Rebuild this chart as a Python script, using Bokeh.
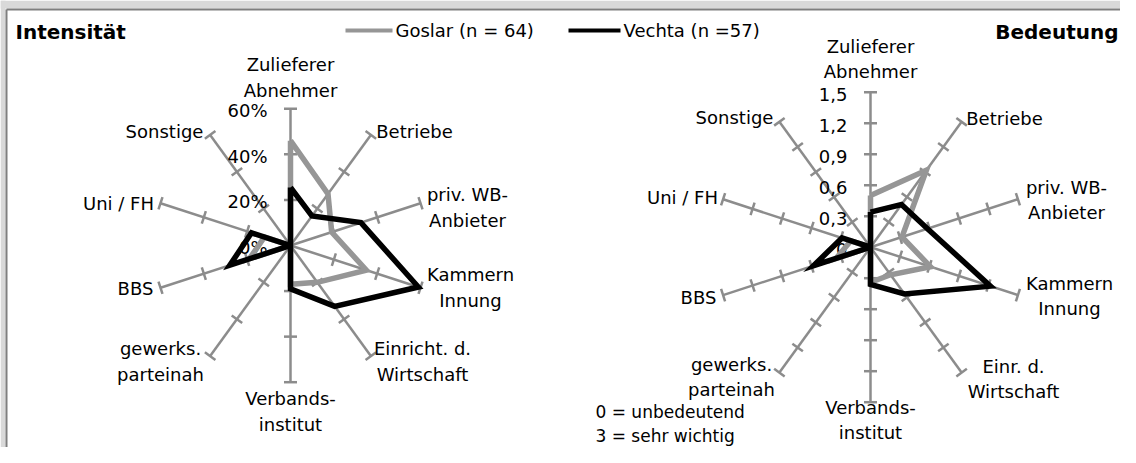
import numpy as np
from bokeh.plotting import figure
from bokeh.models import Range1d
from bokeh.embed import file_html
from bokeh.resources import INLINE
from bokeh.core.properties import value

# ---------------- data ----------------
labels_left = ["Zulieferer\nAbnehmer", "Betriebe", "priv. WB-\nAnbieter", "Kammern\nInnung",
               "Einricht. d.\nWirtschaft", "Verbands-\ninstitut", "gewerks.\nparteinah",
               "BBS", "Uni / FH", "Sonstige"]
labels_right = ["Zulieferer\nAbnehmer", "Betriebe", "priv. WB-\nAnbieter", "Kammern\nInnung",
                "Einr. d.\nWirtschaft", "Verbands-\ninstitut", "gewerks.\nparteinah",
                "BBS", "Uni / FH", "Sonstige"]

goslar_intensity = [46, 28, 19, 35, 20, 17, 0, 19, 12, 0]          # %
vechta_intensity = [25.5, 16, 32.5, 59, 33, 19, 0, 28, 18, 0]       # %
goslar_importance = [0.50, 0.92, 0.32, 0.61, 0.33, 0.34, 0.0, 0.35, 0.20, 0.0]
vechta_importance = [0.34, 0.51, 0.58, 1.22, 0.56, 0.36, 0.0, 0.58, 0.29, 0.0]

intensity_ticks = [0, 20, 40, 60]
intensity_tick_labels = ["0%", "20%", "40%", "60%"]
importance_ticks = [0, 0.3, 0.6, 0.9, 1.2, 1.5]
importance_tick_labels = ["0", "0,3", "0,6", "0,9", "1,2", "1,5"]

series_names = ["Goslar (n = 64)", "Vechta (n =57)"]

# ---------------- layout / style ----------------
FONT = value("DejaVu Sans")
AXIS_COL = "#8c8c8c"
GOSLAR_COL = "#969696"
VECHTA_COL = "#000000"

left_center = (290, 245)
left_R = 136.7
right_center = (870, 246.7)
right_R = 155.0

left_label_offsets = [(0, -168), (124, -114), (177, -38), (180, 42), (132, 116),
                      (0, 166), (-130, 116), (-155, 43), (-172, -42), (-126, -114)]
right_label_offsets = [(0, -188), (134, -129), (196, -47), (199, 49), (143, 132),
                       (0, 173), (-139, 130), (-172, 50), (-188, -50), (-136, -130)]

W, H = 1120, 447
p = figure(width=W, height=H, x_range=Range1d(0, W), y_range=Range1d(H, 0),
           output_backend="svg", toolbar_location=None, min_border=0)
p.axis.visible = False
p.grid.visible = False
p.outline_line_color = None
p.background_fill_color = "white"
p.border_fill_color = "white"

# outer grey band and frame lines (top and left)
p.quad(left=[0, 0], right=[5, W], top=[0, 0], bottom=[H, 8],
       fill_color="#d9d9d9", line_color=None)
p.segment(x0=[6, 6], y0=[9, 9], x1=[W, 6], y1=[9, H], line_color="#7f7f7f", line_width=2)


def radar(center, R, vmax, ticks, tick_labels, labels, offsets, goslar, vechta):
    cx, cy = center
    n = len(labels)
    ang = np.pi / 2 - 2 * np.pi * np.arange(n) / n
    ux, uy = np.cos(ang), -np.sin(ang)
    # spokes
    p.segment(x0=np.full(n, cx), y0=np.full(n, cy), x1=cx + R * ux, y1=cy + R * uy,
              line_color=AXIS_COL, line_width=2.5)
    # tick marks
    h = 6.5
    tx0, ty0, tx1, ty1 = [], [], [], []
    for t in ticks[1:]:
        r = R * t / vmax
        px, py = cx + r * ux, cy + r * uy
        tx0 += list(px - h * (-uy)); ty0 += list(py - h * ux)
        tx1 += list(px + h * (-uy)); ty1 += list(py + h * ux)
    p.segment(x0=tx0, y0=ty0, x1=tx1, y1=ty1, line_color=AXIS_COL, line_width=2.5)
    # tick labels
    ty = [cy - R * t / vmax + 2 for t in ticks]
    p.text(x=[cx - 23] * len(ticks), y=ty, text=tick_labels, text_align="right",
           text_baseline="middle", text_font=FONT, text_font_size="18px", text_color="black")
    # category labels
    lx = [cx + o[0] for o in offsets]
    ly = [cy + o[1] for o in offsets]
    p.text(x=lx, y=ly, text=labels, text_align="center", text_baseline="middle",
           text_font=FONT, text_font_size="18px", text_color="black", text_line_height=1.2)
    # series
    for vals, col in ((goslar, GOSLAR_COL), (vechta, VECHTA_COL)):
        v = np.array(vals + vals[:1], dtype=float)
        uxx = np.append(ux, ux[0]); uyy = np.append(uy, uy[0])
        r = R * v / vmax
        p.line(x=cx + r * uxx, y=cy + r * uyy, line_color=col, line_width=5.5, line_join="miter")


radar(left_center, left_R, intensity_ticks[-1], intensity_ticks, intensity_tick_labels,
      labels_left, left_label_offsets, goslar_intensity, vechta_intensity)
radar(right_center, right_R, importance_ticks[-1], importance_ticks, importance_tick_labels,
      labels_right, right_label_offsets, goslar_importance, vechta_importance)

# titles
p.text(x=[15], y=[31], text=["Intensität"], text_align="left", text_baseline="middle",
       text_font=FONT, text_font_size="20px", text_font_style="bold", text_color="black")
p.text(x=[1118], y=[31], text=["Bedeutung"], text_align="right", text_baseline="middle",
       text_font=FONT, text_font_size="20px", text_font_style="bold", text_color="black")

# legend
p.segment(x0=[345, 568], y0=[30, 30], x1=[392, 620], y1=[30, 30],
          line_color=[GOSLAR_COL, VECHTA_COL], line_width=4)
p.text(x=[395, 623], y=[30, 30], text=series_names, text_align="left", text_baseline="middle",
       text_font=FONT, text_font_size="18px", text_color="black")

# note
p.text(x=[595], y=[423], text=["0 = unbedeutend\n3 = sehr wichtig"], text_align="left",
       text_baseline="middle", text_font=FONT, text_font_size="17px", text_color="black",
       text_line_height=1.2)

open("out.html", "w").write(file_html(p, INLINE))
